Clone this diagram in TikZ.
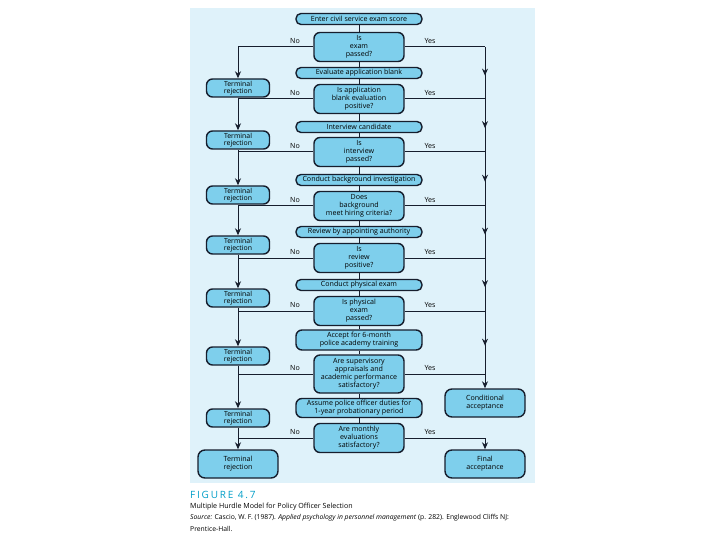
\documentclass[tikz,border=0pt]{standalone}
\usepackage{fontspec}
\setmainfont{Open Sans}
\newfontfamily\figfont[LetterSpace=18]{Open Sans}
\usetikzlibrary{arrows.meta,decorations.markings}
\definecolor{panel}{RGB}{223,242,250}
\definecolor{boxfill}{RGB}{126,207,236}
\definecolor{outl}{RGB}{22,30,45}
\definecolor{figcol}{RGB}{0,158,200}
\newcommand\dfont{\fontsize{7.1}{8.1}\selectfont}
\newcommand\tfont{\fontsize{6.9}{7.3}\selectfont}
\begin{document}
\begin{tikzpicture}[x=1pt,y=-1pt,
  base/.style={draw=outl, line width=1.4pt, fill=boxfill, inner sep=0pt, align=center, font=\dfont, text=black},
  proc/.style={base, rounded corners=5pt, minimum width=126pt, minimum height=11pt},
  dec/.style={base, rounded corners=6pt, minimum width=90pt, minimum height=29pt},
  term/.style={base, font=\tfont, rounded corners=6pt, minimum width=63pt, minimum height=18pt},
  endbox/.style={base, rounded corners=7pt, minimum width=80pt, minimum height=28pt},
  conn/.style={draw=outl, line width=1pt},
  arr/.style={conn, -{Stealth[length=7pt,width=6pt]}},
  midarrow/.style={conn, decoration={markings, mark=at position 0.55 with {\arrow{Stealth[length=7pt,width=6pt]}}}, postaction={decorate}},
  lbl/.style={font=\dfont, inner sep=0pt, text=black}]
\useasboundingbox (0,0) rectangle (720,540);
\fill[white] (0,0) rectangle (720,540);
\fill[panel] (190,8) rectangle (535,483);

% centre column
\node[proc] (p1) at (359,19) {Enter civil service exam score};
\node[dec]  (d1) at (359,47) {Is\\exam\\passed?};
\node[proc] (p2) at (359,73) {Evaluate application blank};
\node[dec]  (d2) at (359,99) {Is application\\blank evaluation\\positive?};
\node[proc] (p3) at (359,127) {Interview candidate};
\node[dec]  (d3) at (359,152) {Is\\interview\\passed?};
\node[proc] (p4) at (359,180) {Conduct background investigation};
\node[dec]  (d4) at (359,206) {Does\\background\\meet hiring criteria?};
\node[proc] (p5) at (359,232) {Review by appointing authority};
\node[dec]  (d5) at (359,258) {Is\\review\\positive?};
\node[proc] (p6) at (359,285) {Conduct physical exam};
\node[dec]  (d6) at (359,311) {Is physical\\exam\\passed?};
\node[proc, minimum height=20pt, rounded corners=6pt] (p7) at (359,340) {Accept for 6-month\\police academy training};
\node[dec, minimum height=38pt] (d7) at (359,374) {Are supervisory\\appraisals and\\academic performance\\satisfactory?};
\node[proc, minimum height=19pt, rounded corners=6pt] (p8) at (359,408) {Assume police officer duties for\\1-year probationary period};
\node[dec]  (d8) at (359,438) {Are monthly\\evaluations\\satisfactory?};

% terminal rejections
\node[term] (t1) at (238,88) {Terminal\\rejection};
\node[term] (t2) at (238,140) {Terminal\\rejection};
\node[term] (t3) at (238,195) {Terminal\\rejection};
\node[term] (t4) at (238,245) {Terminal\\rejection};
\node[term] (t5) at (238,298) {Terminal\\rejection};
\node[term] (t6) at (238,356) {Terminal\\rejection};
\node[term] (t7) at (238,418) {Terminal\\rejection};
\node[endbox] (t8) at (238,464) {Terminal\\rejection};

\node[endbox] (ca) at (485,403) {Conditional\\acceptance};
\node[endbox] (fa) at (485,464) {Final\\acceptance};

% spine coordinates
\foreach \i/\yy in {1/47,2/99,3/152,4/206,5/258,6/311,7/374,8/438}{
  \coordinate (n\i) at (238,\yy);
  \coordinate (y\i) at (485,\yy);
}

% centre connectors
\foreach \a/\b in {p1/d1,d1/p2,p2/d2,d2/p3,p3/d3,d3/p4,p4/d4,d4/p5,p5/d5,d5/p6,p6/d6,d6/p7,p7/d7,d7/p8,p8/d8}{
  \draw[conn] (\a.south) -- (\b.north);
}

% No branches
\draw[conn] (d1.west) -- (n1);
\draw[arr] (n1) -- (t1.north);
\foreach \i/\t/\u in {2/t1/t2,3/t2/t3,4/t3/t4,5/t4/t5,6/t5/t6,7/t6/t7,8/t7/t8}{
  \draw[conn] (d\i.west) -- (n\i);
  \draw[arr] (\t.south) -- (\u.north);
}

% Yes branches
\foreach \i in {1,...,8}{
  \draw[conn] (d\i.east) -- (y\i);
}
\foreach \i/\j in {1/2,2/3,3/4,4/5,5/6,6/7}{
  \draw[midarrow] (y\i) -- (y\j);
}
\draw[arr] (y7) -- (ca.north);
\draw[arr] (y8) -- (fa.north);

% labels
\foreach \i/\yy in {1/47,2/99,3/152,4/206,5/258,6/311,7/374,8/438}{
  \node[lbl] at (295,\yy-6) {No};
  \node[lbl] at (430,\yy-6) {Yes};
}

% caption
\node[anchor=west, inner sep=0pt, text=figcol, font=\figfont\fontsize{10}{11}\selectfont] (fig) at (190,495) {FIGURE 4.7};
\node[anchor=west, inner sep=0pt, font=\fontsize{7.1}{8}\selectfont] (cap) at (190,507) {Multiple Hurdle Model for Policy Officer Selection};
\node[anchor=west, inner sep=0pt, font=\fontsize{6.8}{8}\selectfont] (src) at (190,518) {\textit{Source:} Cascio, W. F. (1987). \textit{Applied psychology in personnel management} (p. 282). Englewood Cliffs NJ:};
\node[anchor=west, inner sep=0pt, font=\fontsize{6.8}{8}\selectfont] (src2) at (190,529) {Prentice-Hall.};
\end{tikzpicture}
\end{document}
